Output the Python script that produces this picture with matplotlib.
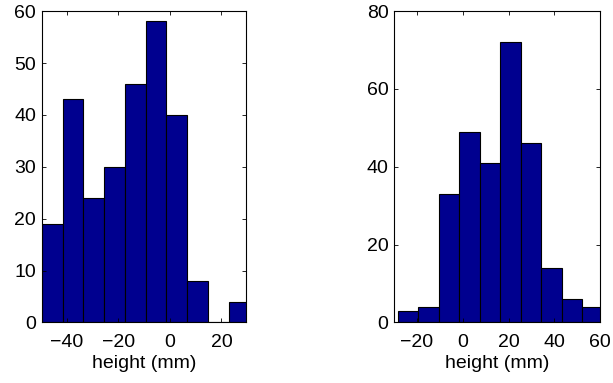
import numpy as np
import matplotlib.pyplot as plt

plt.rcParams['font.family'] = ['Liberation Sans', 'DejaVu Sans']
plt.rcParams['font.size'] = 14

# left histogram (10 bins)
counts_l = [19, 43, 24, 30, 46, 58, 40, 8, 0, 4]
start_l, width_l = -49.6, 8.04
# right histogram (10 bins)
counts_r = [3, 4, 33, 49, 41, 72, 46, 14, 6, 4]
start_r, width_r = -28.3, 8.93

bar_color = (0, 0, 0.5625)

fig = plt.figure(figsize=(6.13, 3.83), dpi=100)
ax1 = fig.add_axes([0.068, 0.158, 0.334, 0.813])
ax2 = fig.add_axes([0.643, 0.158, 0.336, 0.813])

for ax, counts, start, w in [(ax1, counts_l, start_l, width_l),
                             (ax2, counts_r, start_r, width_r)]:
    left = start + w * np.arange(len(counts))
    ax.bar(left, counts, width=w, align='edge', color=bar_color,
           edgecolor='black', linewidth=0.8)
    ax.set_xlabel('height (mm)', labelpad=3)
    ax.tick_params(direction='in', top=True, right=True, length=3, width=0.6)
    ax.tick_params(axis='x', pad=8)
    ax.tick_params(axis='y', pad=4)
    for s in ax.spines.values():
        s.set_linewidth(0.8)

ax1.set_xlim(-49.7, 29.7)
ax1.set_ylim(0, 60)
ax1.set_xticks([-40, -20, 0, 20])
ax1.set_yticks(range(0, 61, 10))

ax2.set_xlim(-30, 60)
ax2.set_ylim(0, 80)
ax2.set_xticks([-20, 0, 20, 40, 60])
ax2.set_yticks(range(0, 81, 20))

plt.savefig('out.png', dpi=100)
